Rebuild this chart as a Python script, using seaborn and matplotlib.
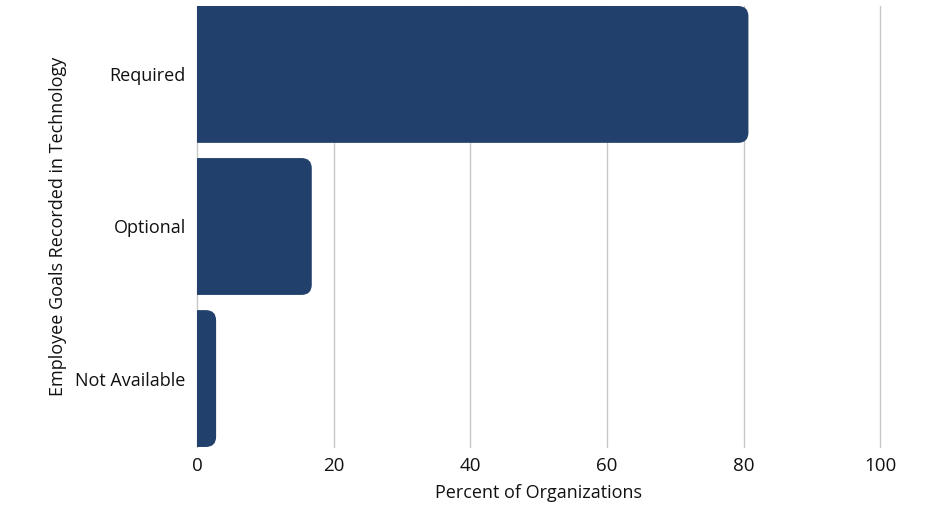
import matplotlib
matplotlib.use("Agg")
import matplotlib.pyplot as plt
from matplotlib.patches import FancyBboxPatch
import seaborn as sns
import pandas as pd

categories = ["Required", "Optional", "Not Available"]
percent = [80.7, 16.8, 2.8]
x_ticks = [0, 20, 40, 60, 80, 100]

df = pd.DataFrame({"cat": categories, "pct": percent})

sns.set_theme(style="white")
plt.rcParams['font.family'] = ['Open Sans', 'DejaVu Sans']

fig = plt.figure(figsize=(9.42, 5.14), dpi=100)
ax = fig.add_axes([0.2091, 0.1304, 0.9345 - 0.2091, 0.9883 - 0.1304])

bar_color = "#22406C"
sns.barplot(data=df, x="pct", y="cat", orient="h", color=bar_color, width=0.9, ax=ax, zorder=3)

ax.set_xlim(0, 100)
ax.set_ylim(2.45, -0.45)

# replace bars with rounded ones
xr = 1.5
px_x = (0.9345 - 0.2091) * 942 / 100.0
px_y = (0.9883 - 0.1304) * 514 / 2.9
aspect = (xr * px_x / px_y) / xr
for p in list(ax.patches):
    x0, y0 = p.get_x(), p.get_y()
    w, h = p.get_width(), p.get_height()
    p.remove()
    fb = FancyBboxPatch((x0 - xr, y0), w + xr, h,
                        boxstyle=f"round,pad=0,rounding_size={xr}",
                        mutation_aspect=aspect,
                        facecolor=bar_color, edgecolor="none", zorder=3)
    ax.add_patch(fb)

ax.set_xticks(x_ticks)
ax.xaxis.grid(True, color="#C8C8C8", linewidth=1.0, zorder=0)
for gl in ax.get_xgridlines():
    gl.set_clip_on(False)
ax.yaxis.grid(False)
ax.set_axisbelow(True)
for s in ax.spines.values():
    s.set_visible(False)
ax.tick_params(axis="both", length=0, colors="#111111")
ax.tick_params(axis="x", pad=7, labelsize=13.5)
ax.tick_params(axis="y", pad=8, labelsize=13)
ax.set_xlabel("Percent of Organizations", fontsize=13, color="#111111", labelpad=7)
ax.set_ylabel("Employee Goals Recorded in Technology", fontsize=13, color="#111111", labelpad=6)

fig.savefig("out.png", dpi=100)
